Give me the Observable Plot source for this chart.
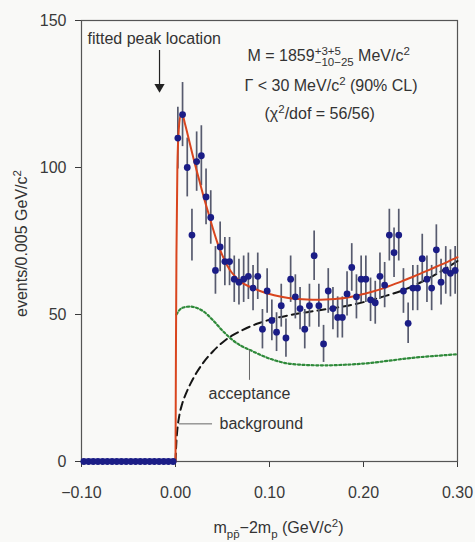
<!DOCTYPE html>
<html><head><meta charset="utf-8">
<script src="https://cdn.jsdelivr.net/npm/d3@7"></script>
<script src="https://cdn.jsdelivr.net/npm/@observablehq/plot@0.6"></script>
<style>
html,body{margin:0;padding:0;background:#f9f9f7;}
#chart svg{display:block;}
</style></head><body><div id="chart"></div>
<script>
// ---- data ----
// bins below threshold (no events)
const zeroBinX = [-0.0975,-0.0925,-0.0875,-0.0825,-0.0775,-0.0725,-0.0675,-0.0625,-0.0575,-0.0525,-0.0475,-0.0425,-0.0375,-0.0325,-0.0275,-0.0225,-0.0175,-0.0125,-0.0075,-0.0025];
const zeroEvents = [0,0,0,0,0,0,0,0,0,0,0,0,0,0,0,0,0,0,0,0];

// bins above threshold
const binX = [0.0025,0.0075,0.0125,0.0175,0.0225,0.0275,0.0325,0.0375,0.0425,0.0475,0.0525,0.0575,0.0625,0.0675,0.0725,0.0775,0.0825,0.0875,0.0925,0.0975,0.1025,0.1075,0.1125,0.1175,0.1225,0.1275,0.1325,0.1375,0.1425,0.1475,0.1525,0.1575,0.1625,0.1675,0.1725,0.1775,0.1825,0.1875,0.1925,0.1975,0.2025,0.2075,0.2125,0.2175,0.2225,0.2275,0.2325,0.2375,0.2425,0.2475,0.2525,0.2575,0.2625,0.2675,0.2725,0.2775,0.2825,0.2875,0.2925,0.2975];
const events = [110,118,100,77,102,104,90,83,65,73,68,68,62,61,62,63,59,63,45,58,48,44,53,42,62,56,52,45,53,70,53,40,58,52,49,49,57,66,56,62,62,55,54,63,60,77,71,77,58,47,59,59,69,62,59,72,61,65,64,65];
const errors = [10.5,10.9,10,8.8,10.1,10.2,9.5,9.1,8.1,8.5,8.2,8.2,7.9,7.8,7.9,7.9,7.7,7.9,6.7,7.6,6.9,6.6,7.3,6.5,7.9,7.5,7.2,6.7,7.3,8.4,7.3,6.3,7.6,7.2,7,7,7.5,8.1,7.5,7.9,7.9,7.4,7.3,7.9,7.7,8.8,8.4,8.8,7.6,6.9,7.7,7.7,8.3,7.9,7.7,8.5,7.8,8.1,8,8.1];

// fit (signal + background)
const fitX = [0,0.0005,0.001,0.002,0.0035,0.0055,0.0075,0.01,0.015,0.02,0.025,0.03,0.035,0.04,0.045,0.05,0.055,0.06,0.07,0.08,0.09,0.10,0.11,0.12,0.13,0.14,0.15,0.16,0.17,0.18,0.19,0.20,0.21,0.22,0.23,0.24,0.25,0.26,0.27,0.28,0.29,0.30];
const fitY = [0,40,70,100,113,117.8,117.8,115,108.5,102,96,90,84.5,79,74,70,66.7,64.2,61,59.3,58,57,56.2,55.6,55.3,55.1,55,55.1,55.3,55.6,56.2,57,57.8,58.8,60,61.2,62.5,63.8,65.2,66.6,68,69.5];

// background
const bgX = [0,0.001,0.002,0.004,0.007,0.011,0.016,0.022,0.03,0.04,0.05,0.06,0.07,0.08,0.09,0.10,0.12,0.14,0.16,0.18,0.20,0.22,0.24,0.26,0.28,0.30];
const bgY = [0,7,11,15.5,19.5,23,26.5,30,33.8,37.5,40.5,42.8,44.5,46,47.2,48.2,49.7,50.8,51.8,52.8,54.2,56,58,60.8,64.2,68.2];

// acceptance
const accX = [0.001,0.005,0.01,0.015,0.022,0.03,0.04,0.05,0.06,0.07,0.08,0.09,0.10,0.11,0.12,0.13,0.14,0.16,0.18,0.20,0.22,0.24,0.26,0.28,0.30];
const accY = [50,51.8,52.5,52.7,52.3,51,48,44.5,41.5,39.3,37.8,36.3,35,34,33.3,33,32.8,32.7,32.9,33.3,34,34.8,35.5,36,36.5];

// axis ticks
const xTicks = [-0.1,0,0.1,0.2,0.3];
const yTicks = [0,50,100,150];

// annotations
const noteText = ["fitted peak location","M = 1859^{+3+5}_{−10−25} MeV/c^{2}","Γ < 30 MeV/c^{2} (90% CL)","(χ^{2}/dof = 56/56)","acceptance","background"];
const noteX = [-0.0936,0.0766,0.0734,0.0947,0.0351,0.0468];
const noteY = [143.9,138.1,127.6,118.4,23.1,12.9];

const arrowX = [-0.017];
const arrowTop = [139.8];
const arrowTip = [127.4];

const accLeaderX = [0.0787];
const accLeaderY = [[27.6,37.8]];
const bgLeaderY = [12.8];
const bgLeaderX = [[0.0043,0.0394]];

const xLabel = "m_{pp̄}−2m_{p} (GeV/c^{2})";
const yLabel = "events/0.005 GeV/c^{2}";

// ---- tables ----
const signal = binX.map((x,i)=>({x, v: events[i], e: errors[i]}));
const zeros = zeroBinX.map((x,i)=>({x, v: zeroEvents[i]}));
const fit = fitX.map((x,i)=>({x, y: fitY[i]}));
const bg = bgX.map((x,i)=>({x, y: bgY[i]}));
const acc = accX.map((x,i)=>({x, y: accY[i]}));
const notes = noteText.map((t,i)=>({t, x: noteX[i], y: noteY[i]}));
const arrow = arrowX.map((x,i)=>({x, y1: arrowTop[i], y2: arrowTip[i]}));
const accLeader = accLeaderX.map((x,i)=>({x, y1: accLeaderY[i][0], y2: accLeaderY[i][1]}));
const bgLeader = bgLeaderY.map((y,i)=>({y, x1: bgLeaderX[i][0], x2: bgLeaderX[i][1]}));

const FONT = "'Liberation Sans', Arial, 'DejaVu Sans', sans-serif";
const TXT = "#333";

const plot = Plot.plot({
  width: 475, height: 542,
  marginLeft: 81, marginRight: 18, marginTop: 20, marginBottom: 81,
  style: {background: "#f9f9f7", fontFamily: FONT, fontSize: "16px", color: "#3a3a3a"},
  x: {domain: [-0.1, 0.3], ticks: xTicks, tickFormat: d3.format(".2f"), tickSize: 6, tickPadding: 19, label: null},
  y: {domain: [0, 150], ticks: yTicks, tickSize: 6, tickPadding: 9, label: null},
  marks: [
    Plot.frame({stroke: "#555", strokeWidth: 1.2}),
    Plot.line(acc, {x: "x", y: "y", curve: "monotone-x", stroke: "#2f8a3a", strokeWidth: 2.2, strokeDasharray: "2.2,2.4"}),
    Plot.line(bg, {x: "x", y: "y", curve: "monotone-x", stroke: "#151515", strokeWidth: 2, strokeDasharray: "8,5"}),
    Plot.ruleX(signal, {x: "x", y1: d => d.v - d.e, y2: d => d.v + d.e, stroke: "#575b6e", strokeWidth: 1.7}),
    Plot.line(fit, {x: "x", y: "y", curve: "monotone-x", stroke: "#d9451e", strokeWidth: 2}),
    Plot.dot(zeros, {x: "x", y: "v", r: 3.4, fill: "#1b1d86"}),
    Plot.dot(signal, {x: "x", y: "v", r: 3.4, fill: "#1b1d86"}),
    Plot.ruleX(arrow, {x: "x", y1: "y1", y2: "y2", stroke: "#222", strokeWidth: 1.2}),
    Plot.dot(arrow, {x: "x", y: "y2", symbol: "triangle", rotate: 180, r: 3.8, fill: "#222"}),
    Plot.ruleX(accLeader, {x: "x", y1: "y1", y2: "y2", stroke: "#666", strokeWidth: 1}),
    Plot.ruleY(bgLeader, {y: "y", x1: "x1", x2: "x2", stroke: "#666", strokeWidth: 1}),
    Plot.text(notes, {x: "x", y: "y", text: "t", textAnchor: "start", lineAnchor: "middle", fontSize: 16, fill: TXT}),
    Plot.text([yLabel], {text: d => d, frameAnchor: "left", dx: -60, dy: 2.5, rotate: -90, textAnchor: "middle", lineAnchor: "middle", fontSize: 16, fill: TXT}),
    Plot.text([xLabel], {text: d => d, frameAnchor: "bottom", dx: 9, dy: 66, textAnchor: "middle", lineAnchor: "middle", fontSize: 16, fill: TXT})
  ]
});
document.getElementById("chart").appendChild(plot);

// rich text: ^{sup} and _{sub}
function richify(el) {
  const raw = el.textContent;
  if (!/[\^_]\{/.test(raw)) return;
  const parts = raw.split(/(\^\{[^}]*\}|_\{[^}]*\})/).filter(s => s !== "");
  el.textContent = "";
  const ns = "http://www.w3.org/2000/svg";
  let shift = 0, prevSup = null;
  for (const p of parts) {
    const t = document.createElementNS(ns, "tspan");
    let target = 0, small = false;
    if (p.startsWith("^{")) { target = -6; small = true; t.textContent = p.slice(2, -1); }
    else if (p.startsWith("_{")) { target = 5; small = true; t.textContent = p.slice(2, -1); }
    else t.textContent = p;
    if (target - shift !== 0) t.setAttribute("dy", target - shift);
    shift = target;
    if (small) t.setAttribute("font-size", "11.5");
    el.appendChild(t);
    if (p.startsWith("_{") && prevSup) t.setAttribute("dx", -prevSup.getComputedTextLength());
    prevSup = p.startsWith("^{") ? t : null;
  }
}
plot.querySelectorAll("text").forEach(richify);
</script>
</body></html>
